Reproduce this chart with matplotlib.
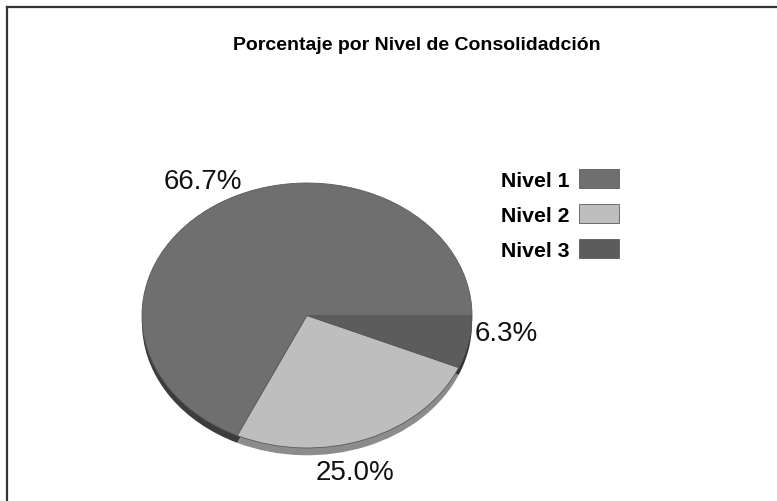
import matplotlib
matplotlib.use('AGG')
import matplotlib.pyplot as plt
from matplotlib.lines import Line2D

# data
niveles = ['Nivel 1', 'Nivel 2', 'Nivel 3']
porcentajes = [66.7, 25.0, 6.3]
colores = ['#6f6f6f', '#bebebe', '#5c5c5c']
colores_borde = ['#3c3c3c', '#8c8c8c', '#353535']

titulo = 'Porcentaje por Nivel de Consolidadción'

fuente = ['Liberation Sans', 'DejaVu Sans']

fig = plt.figure(figsize=(7.77, 5.02), dpi=100)

# pie axes (ellipse, not equal aspect)
ax = fig.add_axes([142 / 777, 1 - 456 / 502, 330 / 777, 272 / 502])

# 3d edge: same pie pushed down a bit, darker
ax.pie(porcentajes, colors=colores_borde, startangle=0, counterclock=True,
       center=(0, -0.055), wedgeprops={'linewidth': 0})
wedges, texts, autotexts = ax.pie(
    porcentajes, colors=colores, startangle=0, counterclock=True,
    autopct='%.1f%%', pctdistance=1.15,
    wedgeprops={'linewidth': 0.6, 'edgecolor': '#5a5a5a'},
    textprops={'fontsize': 20, 'family': fuente, 'color': '#111111'})

# labels show the original values, placed like the original
pos = [(-0.63, 1.015), (0.29, -1.18), (1.21, -0.13)]
for t, v, p in zip(autotexts, porcentajes, pos):
    t.set_text(f'{v:.1f}%')
    t.set_position(p)
    t.set_ha('center')
    t.set_va('center')

ax.set_aspect('auto')
ax.set_xlim(-1, 1)
ax.set_ylim(-1.053, 1)
ax.axis('off')

# title
fig.text(417 / 777, 1 - 46 / 502, titulo, ha='center', va='center',
         fontsize=14, fontweight='bold', family=fuente)

# legend, labels left of the boxes
leg = fig.legend(wedges, niveles, loc='upper right',
                 bbox_to_anchor=(619 / 777, 1 - 170 / 502),
                 markerfirst=False, frameon=False, borderpad=0,
                 borderaxespad=0,
                 handlelength=1.88, handleheight=1.0, labelspacing=0.68,
                 handletextpad=0.45,
                 prop={'family': fuente, 'weight': 'bold', 'size': 15.3})

# frame lines top and left
fig.add_artist(Line2D([7 / 777, 1], [1 - 8 / 502, 1 - 8 / 502],
                      color='#333333', lw=1.6))
fig.add_artist(Line2D([7 / 777, 7 / 777], [0, 1 - 8 / 502],
                      color='#333333', lw=1.6))

fig.savefig('out.png', dpi=100)
